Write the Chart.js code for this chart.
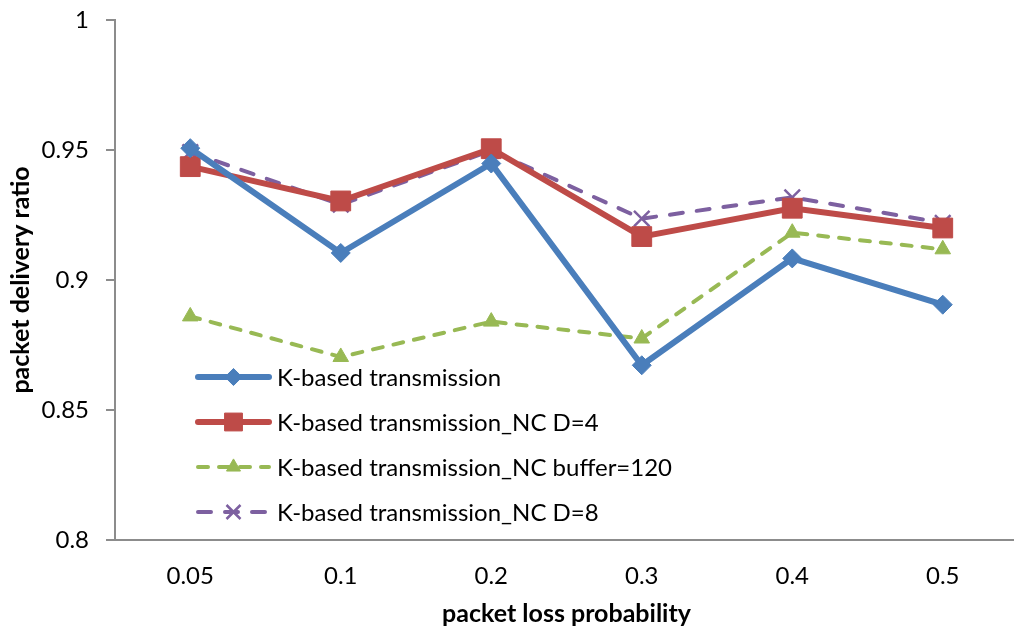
<!DOCTYPE html>
<html>
<head>
<meta charset="utf-8">
<script src="https://cdn.jsdelivr.net/npm/chart.js@4/dist/chart.umd.min.js"></script>
<style>
  html, body { margin: 0; padding: 0; overflow: hidden; background: #ffffff; }
  #chart { display: block; }
</style>
</head>
<body>
<canvas id="chart" width="1018" height="631"></canvas>
<script>
// Packet loss probabilities on the x axis
const categories = ['0.05', '0.1', '0.2', '0.3', '0.4', '0.5'];

// Packet delivery ratio per scheme
const kBased        = [0.9507, 0.9104, 0.9448, 0.8672, 0.9083, 0.8905];
const ncD4          = [0.9436, 0.9304, 0.9505, 0.9167, 0.9276, 0.9200];
const ncBuffer120   = [0.8860, 0.8704, 0.8840, 0.8775, 0.9182, 0.9118];
const ncD8          = [0.9492, 0.9290, 0.9498, 0.9236, 0.9318, 0.9220];

const seriesNames = [
  'K-based transmission',
  'K-based transmission_NC D=4',
  'K-based transmission_NC buffer=120',
  'K-based transmission_NC D=8'
];

const yTicks = [0.8, 0.85, 0.9, 0.95, 1];

const FONT = 'Lato, "Open Sans", sans-serif';
const AXIS_GREY = '#8c8c8c';

const datasets = [
  {
    label: seriesNames[0], data: kBased,
    borderColor: '#4A7EBB', backgroundColor: '#4A7EBB',
    borderWidth: 6, pointStyle: 'rectRot', pointRadius: 9.5,
    pointBorderWidth: 1, borderDash: []
  },
  {
    label: seriesNames[1], data: ncD4,
    borderColor: '#BE4B48', backgroundColor: '#BE4B48',
    borderWidth: 6, pointStyle: 'rect', pointRadius: 14,
    pointBorderWidth: 1, borderDash: []
  },
  {
    label: seriesNames[2], data: ncBuffer120,
    borderColor: '#98B954', backgroundColor: '#98B954',
    borderWidth: 4, pointStyle: 'triangle', pointRadius: 9,
    pointBorderWidth: 1, borderDash: [10, 11], borderCapStyle: 'round'
  },
  {
    label: seriesNames[3], data: ncD8,
    borderColor: '#7D60A0', backgroundColor: '#7D60A0',
    borderWidth: 4, pointStyle: 'crossRot', pointRadius: 11,
    pointBorderWidth: 2.5, borderDash: [13, 14], borderCapStyle: 'round'
  }
].map(d => Object.assign({ tension: 0, fill: false, pointHoverRadius: d.pointRadius }, d));

// Legend drawn inside the plot area, below the curves
const insideLegend = {
  id: 'insideLegend',
  afterDraw(chart) {
    const ctx = chart.ctx;
    const x0 = 198, x1 = 269, textX = 277;
    const rows = [377, 422, 467, 512];
    chart.data.datasets.forEach((ds, i) => {
      const y = rows[i];
      ctx.save();
      ctx.strokeStyle = ds.borderColor;
      ctx.lineWidth = ds.borderWidth;
      ctx.lineCap = 'round';
      ctx.setLineDash(ds.borderDash);
      ctx.beginPath();
      ctx.moveTo(x0, y);
      ctx.lineTo(x1, y);
      ctx.stroke();
      ctx.restore();

      ctx.save();
      ctx.fillStyle = ds.backgroundColor;
      ctx.strokeStyle = ds.borderColor;
      ctx.lineWidth = ds.pointBorderWidth;
      Chart.helpers.drawPoint(ctx, {
        pointStyle: ds.pointStyle,
        radius: ds.pointRadius * 0.9,
        rotation: 0,
        borderWidth: ds.pointBorderWidth
      }, (x0 + x1) / 2, y);
      ctx.restore();

      ctx.save();
      ctx.fillStyle = '#000000';
      ctx.font = '24px ' + FONT;
      ctx.textBaseline = 'middle';
      ctx.textAlign = 'left';
      ctx.fillText(ds.label, textX, y + 1);
      ctx.restore();
    });
  }
};

// Axis labels stay inside the reserved margins, so no extra edge padding is needed
function noEdgePadding(scale) {
  scale.paddingTop = 0;
  scale.paddingBottom = 0;
  scale.paddingLeft = 0;
  scale.paddingRight = 0;
}

new Chart(document.getElementById('chart'), {
  type: 'line',
  data: { labels: categories, datasets },
  options: {
    responsive: false,
    animation: false,
    layout: { autoPadding: false, padding: { top: 20, right: 0, bottom: 0, left: 0 } },
    plugins: {
      legend: { display: false },
      tooltip: { enabled: false }
    },
    scales: {
      x: {
        offset: true,
        grid: { display: false, drawTicks: false },
        border: { color: AXIS_GREY, width: 2 },
        ticks: { color: '#000', font: { family: FONT, size: 24 }, padding: 22 },
        title: {
          display: true, text: 'packet loss probability', color: '#000',
          font: { family: FONT, size: 25, weight: 'bold' },
          padding: { top: 0, bottom: 2 }
        },
        afterFit(scale) { scale.height = 91; noEdgePadding(scale); }
      },
      y: {
        min: 0.8, max: 1,
        afterBuildTicks(scale) { scale.ticks = yTicks.map(v => ({ value: v })); },
        grid: { drawOnChartArea: false, drawTicks: true, tickLength: 9, color: AXIS_GREY, lineWidth: 2 },
        border: { color: AXIS_GREY, width: 2 },
        ticks: {
          color: '#000', font: { family: FONT, size: 24 }, padding: 17,
          callback: v => String(parseFloat(Number(v).toFixed(2)))
        },
        title: {
          display: true, text: 'packet delivery ratio', color: '#000',
          font: { family: FONT, size: 25, weight: 'bold' },
          padding: { top: 6, bottom: 0 }
        },
        afterFit(scale) { scale.width = 115; noEdgePadding(scale); }
      }
    }
  },
  plugins: [insideLegend]
});
</script>
</body>
</html>
